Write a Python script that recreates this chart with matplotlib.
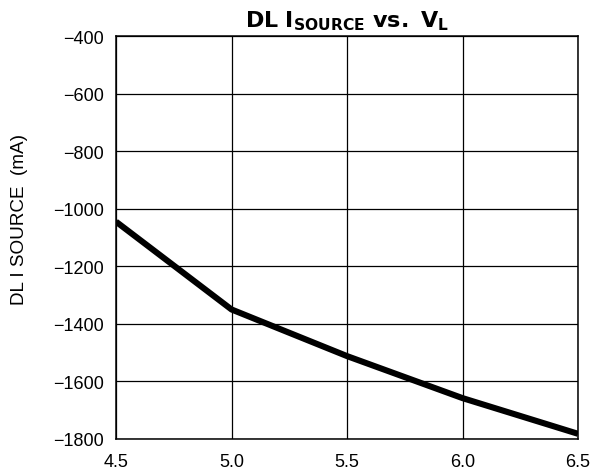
import matplotlib
matplotlib.use("Agg")
import matplotlib.pyplot as plt

# DL I_SOURCE vs V_L
v_l = [4.5, 5.0, 5.5, 6.0, 6.5]
i_source = [-1045, -1350, -1512, -1658, -1782]

x_ticks = [4.5, 5.0, 5.5, 6.0, 6.5]
x_labels = ["4.5", "5.0", "5.5", "6.0", "6.5"]
y_ticks = [-1800, -1600, -1400, -1200, -1000, -800, -600, -400]

plt.rcParams['font.family'] = ['Liberation Sans', 'DejaVu Sans']
plt.rcParams['mathtext.fontset'] = 'custom'
plt.rcParams['mathtext.bf'] = 'DejaVu Sans:bold'
plt.rcParams['mathtext.rm'] = 'DejaVu Sans:bold'

fig = plt.figure(figsize=(5.98, 4.77), dpi=100)
ax = fig.add_axes([0.194, 0.0776, 0.7726, 0.8448])

ax.plot(v_l, i_source, color='black', linewidth=4.4, solid_capstyle='butt', zorder=3)

ax.set_xlim(4.5, 6.5)
ax.set_ylim(-1800, -400)
ax.set_xticks(x_ticks)
ax.set_xticklabels(x_labels)
ax.set_yticks(y_ticks)
ax.grid(True, color='black', linewidth=0.9)
ax.tick_params(length=0, labelsize=13)
ax.tick_params(axis='x', pad=10)
ax.tick_params(axis='y', pad=9)
for s in ax.spines.values():
    s.set_linewidth(1.1)

ax.set_ylabel("DL I SOURCE  (mA)", fontsize=13.6)
ax.yaxis.set_label_coords(-0.19, 0.548)
ax.set_title(r"$\mathbf{DL\ I_{SOURCE}\ vs.\ V_L}$", fontsize=16, pad=7)

fig.savefig("out.png", dpi=100)
